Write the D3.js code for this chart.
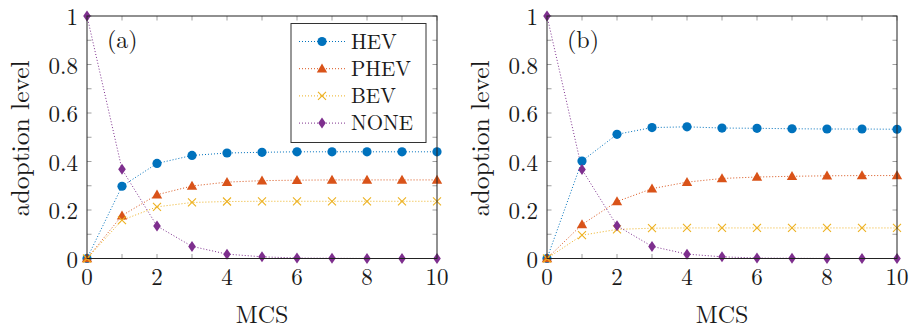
<!DOCTYPE html>
<html>
<head>
<meta charset="utf-8">
<script src="https://cdn.jsdelivr.net/npm/d3@7"></script>
<style>
  body { margin: 0; background: #fff; }
  text { font-family: "Latin Modern Roman", "Liberation Serif", "DejaVu Serif", serif; fill: #1a1a1a; }
</style>
</head>
<body>
<div id="chart"></div>
<script>
const mcs = [0, 1, 2, 3, 4, 5, 6, 7, 8, 9, 10];
const seriesNames = ['HEV', 'PHEV', 'BEV', 'NONE'];
const colors = ['#0072BD', '#D95319', '#EDB120', '#7E2F8E'];
const symbols = ['circle', 'triangle', 'cross', 'diamond'];

// panel (a)
const hevA  = [0, 0.298, 0.392, 0.425, 0.435, 0.438, 0.440, 0.440, 0.440, 0.440, 0.440];
const phevA = [0, 0.177, 0.263, 0.299, 0.315, 0.321, 0.323, 0.324, 0.324, 0.324, 0.324];
const bevA  = [0, 0.158, 0.213, 0.231, 0.235, 0.236, 0.236, 0.236, 0.236, 0.236, 0.236];
const noneA = [1, 0.368, 0.134, 0.050, 0.018, 0.007, 0.002, 0.001, 0, 0, 0];
// panel (b)
const hevB  = [0, 0.402, 0.512, 0.540, 0.543, 0.538, 0.537, 0.535, 0.534, 0.534, 0.533];
const phevB = [0, 0.140, 0.235, 0.288, 0.315, 0.330, 0.336, 0.339, 0.341, 0.342, 0.342];
const bevB  = [0, 0.096, 0.120, 0.125, 0.126, 0.126, 0.126, 0.126, 0.126, 0.126, 0.126];
const noneB = [1, 0.367, 0.135, 0.050, 0.018, 0.007, 0.002, 0.001, 0, 0, 0];

const xTicks = [0, 2, 4, 6, 8, 10];
const yTicks = [0, 0.2, 0.4, 0.6, 0.8, 1];

const width = 909, height = 328;
const svg = d3.select('#chart').append('svg')
    .attr('width', width).attr('height', height)
    .attr('viewBox', '0 0 ' + width + ' ' + height);

const panels = [
    { left: 87, label: '(a)', data: [hevA, phevA, bevA, noneA], legend: true },
    { left: 547, label: '(b)', data: [hevB, phevB, bevB, noneB], legend: false }
];
const plotW = 350, plotTop = 16, plotBottom = 258.5;

const marker = (g, sym, color) => {
    if (sym === 'circle') {
        g.append('circle').attr('r', 4.6).attr('fill', color);
    } else if (sym === 'triangle') {
        g.append('path').attr('d', 'M0,-5.2L5.2,3.8L-5.2,3.8Z').attr('fill', color);
    } else if (sym === 'cross') {
        g.append('path').attr('d', 'M-4,-4L4,4M-4,4L4,-4')
            .attr('stroke', color).attr('stroke-width', 1.1).attr('fill', 'none');
    } else {
        g.append('path').attr('d', 'M0,-5.5L3.8,0L0,5.5L-3.8,0Z').attr('fill', color);
    }
};

panels.forEach(p => {
    const x = d3.scaleLinear().domain([0, 10]).range([p.left, p.left + plotW]);
    const y = d3.scaleLinear().domain([0, 1]).range([plotBottom, plotTop]);
    const g = svg.append('g');

    // inward ticks on all four sides
    const tickCol = '#888';
    d3.range(0, 11).forEach(v => {
        g.append('line').attr('x1', x(v)).attr('x2', x(v)).attr('y1', plotBottom).attr('y2', plotBottom - 4.5)
            .attr('stroke', tickCol).attr('stroke-width', 0.8);
        g.append('line').attr('x1', x(v)).attr('x2', x(v)).attr('y1', plotTop).attr('y2', plotTop + 4.5)
            .attr('stroke', tickCol).attr('stroke-width', 0.8);
    });
    d3.range(0, 11).forEach(i => {
        const v = i / 10;
        g.append('line').attr('x1', x(0)).attr('x2', x(0) + 4.5).attr('y1', y(v)).attr('y2', y(v))
            .attr('stroke', tickCol).attr('stroke-width', 0.8);
        g.append('line').attr('x1', x(10)).attr('x2', x(10) - 4.5).attr('y1', y(v)).attr('y2', y(v))
            .attr('stroke', tickCol).attr('stroke-width', 0.8);
    });

    // tick labels
    g.selectAll('.xl').data(xTicks).enter().append('text')
        .attr('x', d => x(d)).attr('y', plotBottom + 26)
        .attr('text-anchor', 'middle').attr('font-size', 23)
        .text(d => d);
    g.selectAll('.yl').data(yTicks).enter().append('text')
        .attr('x', x(0) - 9).attr('y', d => y(d) + 9)
        .attr('text-anchor', 'end').attr('font-size', 23)
        .text(d => d);

    // axis titles
    g.append('text').attr('x', x(5)).attr('y', 322.5)
        .attr('text-anchor', 'middle').attr('font-size', 24).text('MCS');
    g.append('text')
        .attr('transform', 'translate(' + (p.left - 58.5) + ',' + ((plotTop + plotBottom) / 2 + 1) + ') rotate(-90)')
        .attr('text-anchor', 'middle').attr('font-size', 25.5).text('adoption level');

    // series
    const line = d3.line().x((d, i) => x(mcs[i])).y(d => y(d));
    p.data.forEach((s, k) => {
        g.append('path').datum(s).attr('d', line)
            .attr('fill', 'none').attr('stroke', colors[k])
            .attr('stroke-width', 1).attr('stroke-dasharray', '1,2');
    });
    p.data.forEach((s, k) => {
        s.forEach((v, i) => {
            const mg = g.append('g').attr('transform', 'translate(' + x(mcs[i]) + ',' + y(v) + ')');
            marker(mg, symbols[k], colors[k]);
        });
    });

    // frame
    g.append('rect').attr('x', x(0)).attr('y', plotTop).attr('width', plotW).attr('height', plotBottom - plotTop)
        .attr('fill', 'none').attr('stroke', '#222').attr('stroke-width', 1);

    // panel label
    g.append('text').attr('x', x(0) + 20).attr('y', 48).attr('font-size', 24).text(p.label);

    if (p.legend) {
        const lg = g.append('g');
        lg.append('rect').attr('x', 291).attr('y', 23.5).attr('width', 135).attr('height', 119)
            .attr('fill', '#fff').attr('stroke', '#333').attr('stroke-width', 1);
        seriesNames.forEach((n, k) => {
            const ly = 41.5 + k * 27.2;
            lg.append('line').attr('x1', 299).attr('x2', 345).attr('y1', ly).attr('y2', ly)
                .attr('stroke', colors[k]).attr('stroke-width', 1).attr('stroke-dasharray', '1,2');
            const mg = lg.append('g').attr('transform', 'translate(322,' + ly + ')');
            marker(mg, symbols[k], colors[k]);
            lg.append('text').attr('x', 351).attr('y', ly + 7.2).attr('font-size', 21).text(n);
        });
    }
});
</script>
</body>
</html>
